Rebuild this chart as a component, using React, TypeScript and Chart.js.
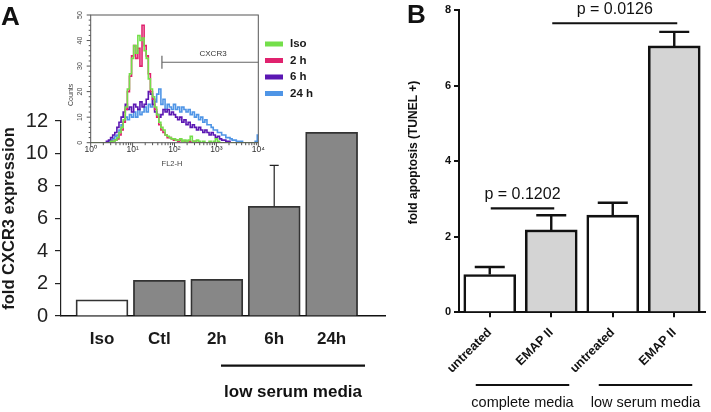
import React, { useEffect, useRef } from "react";
import { Chart, registerables } from "chart.js";

Chart.register(...registerables);

const FONT = "'Liberation Sans', Arial, Helvetica, sans-serif";
Chart.defaults.font.family = FONT;

// ---------- Panel A : bar chart ----------
const groupsA = ["Iso", "Ctl", "2h", "6h", "24h"];
const valuesA = [1.0, 2.2, 2.26, 6.75, 11.3];
const errorsA = [0, 0, 0, 2.52, 0];
const lowSerumA = "low serum media";

// ---------- Panel A inset : flow histogram ----------
const insetSeries = ["Iso", "2 h", "6 h", "24 h"];
const insetColors = ["#74df4a", "#e0226e", "#5b17b3", "#4f95e6"];
const insetXLabels = ["10\u2070", "10\u00b9", "10\u00b2", "10\u00b3", "10\u2074"];
const insetYTicks = [0, 10, 20, 30, 40, 50];
const gateLog = 1.7;
const gateCount = 31.5;

// log10(FL2-H) positions
const histLog = [
  0.0, 0.1, 0.2, 0.25, 0.3, 0.35, 0.4, 0.45, 0.5, 0.55,
  0.6, 0.65, 0.7, 0.75, 0.8, 0.85, 0.9, 0.95, 1.0, 1.05,
  1.1, 1.15, 1.2, 1.25, 1.3, 1.35, 1.4, 1.45, 1.5, 1.55,
  1.6, 1.65, 1.7, 1.75, 1.8, 1.85, 1.9, 1.95, 2.0, 2.05,
  2.1, 2.15, 2.2, 2.25, 2.3, 2.35, 2.4, 2.45, 2.5, 2.55,
  2.6, 2.65, 2.7, 2.75, 2.8, 2.85, 2.9, 2.95, 3.0, 3.05,
  3.1, 3.15, 3.2, 3.25, 3.3, 3.35, 3.4, 3.45, 3.5, 3.55,
  3.6, 3.65, 3.7, 3.75, 3.8, 3.85, 3.9, 3.95, 4.0,
];
const histIso = [
  0, 0, 0, 0, 0, 0, 0, 0, 0.5, 0.5,
  1, 2, 4, 6, 9, 14, 21, 27, 33, 38,
  35, 42, 40, 41, 36, 33, 25, 21, 18, 14,
  11, 8, 6, 5, 3, 2.5, 2, 1.5, 1.5, 1,
  1, 1.5, 0.5, 1, 0.5, 1, 2.5, 0.5, 0.5, 1,
  0.5, 0, 0.5, 0, 0, 0.5, 0, 0.5, 1.5, 0.5,
  0, 0, 0, 0, 0, 0, 0, 0, 0, 0,
  0, 0, 0, 0, 0, 0, 0, 0, 0,
];
const hist2h = [
  0, 0, 0, 0, 0, 0, 0, 0, 0, 0.5,
  1, 1.5, 3, 5, 8, 13, 20, 26, 34, 38,
  33, 37, 30, 46, 38, 34, 27, 20, 17, 13,
  10, 7, 5, 4, 3, 2, 2, 1.5, 1, 1,
  0.5, 1, 0.5, 0.5, 0.5, 0.5, 0, 0.5, 0.5, 0,
  0, 0, 0, 0, 0, 0, 0, 0, 0, 0,
  0, 0, 0, 0, 0, 0, 0, 0, 0, 0,
  0, 0, 0, 0, 0, 0, 0, 0, 0,
];
const hist6h = [
  0, 0, 0, 0, 0, 0, 0.5, 1, 2, 3,
  4, 6, 8, 10, 12, 15, 13, 14, 12, 15,
  14, 13, 16, 14, 15, 17, 20, 19, 15, 12,
  11, 10, 11, 13, 12, 13, 11, 12, 11, 10,
  9, 10, 8, 9, 7, 8, 6, 7, 6, 5,
  6, 5, 4, 5, 4, 3, 4, 3, 2, 2.5,
  1.5, 1, 1, 0.5, 0.5, 0, 0, 0, 0, 0,
  0, 0, 0, 0, 0, 0, 0, 0, 0,
];
const hist24h = [
  0, 0, 0, 0, 0, 0, 0, 0.5, 1, 1.5,
  2.5, 3, 5, 7, 8, 10, 9, 11, 10, 12,
  10, 13, 11, 12, 14, 12, 15, 14, 17, 16,
  19, 21, 15, 17, 13, 15, 14, 13, 15, 13,
  14, 12, 14, 13, 12, 13, 11, 12, 10, 11,
  9, 10, 8, 9, 7, 7, 6, 5, 5, 4,
  4, 3, 3, 2, 2, 1.5, 1, 1, 0.5, 0.5,
  0.5, 0, 0, 0, 0, 0, 0, 0.5, 3,
];
const insetData = [histIso, hist2h, hist6h, hist24h];

// ---------- Panel B : apoptosis ----------
const groupsB = ["untreated", "EMAP II", "untreated", "EMAP II"];
const valuesB = [1.0, 2.18, 2.57, 7.05];
const errorsB = [0.2, 0.39, 0.33, 0.37];
const conditionsB = ["complete media", "low serum media"];
const pLabels = ["p = 0.1202", "p = 0.0126"];
const pPairs = [
  [0, 1],
  [1, 3],
];
const pLevels = [2.75, 7.65];

function makeErrorBars(errors: number[], cap: number, width: number, color: string) {
  return {
    id: "errorBars",
    afterDatasetsDraw(chart: any) {
      const meta = chart.getDatasetMeta(0);
      const ys = chart.scales.y;
      const ctx = chart.ctx;
      const vals = chart.data.datasets[0].data;
      ctx.save();
      ctx.strokeStyle = color;
      ctx.lineWidth = width;
      meta.data.forEach((el: any, i: number) => {
        const e = errors[i];
        if (!e) return;
        const raw = vals[i];
        const v = typeof raw === "number" ? raw : raw.y;
        const y0 = ys.getPixelForValue(v);
        const y1 = ys.getPixelForValue(v + e);
        ctx.beginPath();
        ctx.moveTo(el.x, y0);
        ctx.lineTo(el.x, y1);
        ctx.moveTo(el.x - cap / 2, y1);
        ctx.lineTo(el.x + cap / 2, y1);
        ctx.stroke();
      });
      ctx.restore();
    },
  };
}

const panelADecor = {
  id: "panelADecor",
  afterDraw(chart: any) {
    const { ctx } = chart;
    const x = chart.scales.x;
    ctx.save();
    ctx.fillStyle = "#111";
    ctx.font = `bold 26px ${FONT}`;
    ctx.textAlign = "left";
    ctx.textBaseline = "alphabetic";
    ctx.fillText("A", 1, 25);
    const x0 = x.getPixelForValue(2.073);
    const x1 = x.getPixelForValue(4.582);
    ctx.strokeStyle = "#111";
    ctx.lineWidth = 2.2;
    ctx.beginPath();
    ctx.moveTo(x0, 365.7);
    ctx.lineTo(x1, 365.7);
    ctx.stroke();
    ctx.font = `bold 17px ${FONT}`;
    ctx.textAlign = "center";
    ctx.textBaseline = "middle";
    ctx.fillText(lowSerumA, (x0 + x1) / 2, 392);
    ctx.restore();
  },
};

const insetDecor = {
  id: "insetDecor",
  afterDraw(chart: any) {
    const { ctx, chartArea: a } = chart;
    const x = chart.scales.x;
    const y = chart.scales.y;
    ctx.save();
    ctx.strokeStyle = "#555";
    ctx.lineWidth = 1;
    ctx.strokeRect(a.left, a.top, a.right - a.left, a.bottom - a.top);
    ctx.beginPath();
    for (let d = 0; d < 4; d++) {
      for (let k = 1; k < 10; k++) {
        const px = x.getPixelForValue(d + Math.log10(k));
        const len = k === 1 ? 4 : 2.5;
        ctx.moveTo(px, a.bottom);
        ctx.lineTo(px, a.bottom + len);
      }
    }
    const pEnd = x.getPixelForValue(4);
    ctx.moveTo(pEnd, a.bottom);
    ctx.lineTo(pEnd, a.bottom + 4);
    for (let c = 0; c <= 50; c += 2) {
      const py = y.getPixelForValue(c);
      const len = c % 10 === 0 ? 4 : 2;
      ctx.moveTo(a.left, py);
      ctx.lineTo(a.left - len, py);
    }
    ctx.stroke();

    // y tick labels (rotated)
    ctx.fillStyle = "#444";
    ctx.font = `7px ${FONT}`;
    ctx.textAlign = "center";
    ctx.textBaseline = "middle";
    insetYTicks.forEach((v) => {
      const py = y.getPixelForValue(v);
      ctx.save();
      ctx.translate(a.left - 10.5, py);
      ctx.rotate(-Math.PI / 2);
      ctx.fillText(String(v), 0, 0);
      ctx.restore();
    });
    // axis titles
    ctx.save();
    ctx.translate(a.left - 20, (a.top + a.bottom) / 2 + 16);
    ctx.rotate(-Math.PI / 2);
    ctx.fillText("Counts", 0, 0);
    ctx.restore();
    ctx.font = `7.5px ${FONT}`;
    ctx.fillText("FL2-H", (a.left + a.right) / 2 - 2.5, 164);

    // CXCR3 gate
    const gx = x.getPixelForValue(gateLog);
    const gy = y.getPixelForValue(gateCount);
    ctx.strokeStyle = "#666";
    ctx.lineWidth = 1.2;
    ctx.beginPath();
    ctx.moveTo(gx, gy);
    ctx.lineTo(a.right, gy);
    ctx.moveTo(gx, gy - 6.5);
    ctx.lineTo(gx, gy + 6.5);
    ctx.stroke();
    ctx.fillStyle = "#333";
    ctx.font = `8px ${FONT}`;
    ctx.fillText("CXCR3", x.getPixelForValue(2.92), gy - 8);

    // legend
    ctx.font = `bold 11.5px ${FONT}`;
    ctx.textAlign = "left";
    insetSeries.forEach((label, i) => {
      const ly = 44 + i * 16.5;
      ctx.fillStyle = insetColors[i];
      ctx.fillRect(205, ly - 2.5, 18, 5);
      ctx.fillStyle = "#1a1a1a";
      ctx.fillText(label, 230, ly);
    });
    ctx.restore();
  },
};

const panelBDecor = {
  id: "panelBDecor",
  afterDraw(chart: any) {
    const { ctx } = chart;
    const y = chart.scales.y;
    const meta = chart.getDatasetMeta(0);
    const cx = meta.data.map((e: any) => e.x);
    ctx.save();
    ctx.fillStyle = "#111";
    ctx.strokeStyle = "#111";
    ctx.font = `bold 26px ${FONT}`;
    ctx.textAlign = "left";
    ctx.textBaseline = "alphabetic";
    ctx.fillText("B", 7, 23);

    ctx.save();
    ctx.translate(14, 152.5);
    ctx.rotate(-Math.PI / 2);
    ctx.font = `bold 12px ${FONT}`;
    ctx.textAlign = "center";
    ctx.textBaseline = "middle";
    ctx.fillText("fold apoptosis (TUNEL +)", 0, 0);
    ctx.restore();

    ctx.lineWidth = 2.2;
    ctx.textAlign = "center";
    ctx.textBaseline = "middle";
    ctx.font = `16px ${FONT}`;
    pPairs.forEach(([i, j], k) => {
      const py = y.getPixelForValue(pLevels[k]);
      const x0 = cx[i] + 1;
      const x1 = cx[j] + 3;
      ctx.beginPath();
      ctx.moveTo(x0, py);
      ctx.lineTo(x1, py);
      ctx.stroke();
      ctx.fillText(pLabels[k], (x0 + x1) / 2, py - 14);
    });

    ctx.font = `14.5px ${FONT}`;
    conditionsB.forEach((label, k) => {
      const x0 = cx[2 * k] - 14;
      const x1 = cx[2 * k + 1] + 18;
      const gy = 385;
      ctx.beginPath();
      ctx.moveTo(x0, gy);
      ctx.lineTo(x1, gy);
      ctx.stroke();
      ctx.fillText(label, (x0 + x1) / 2, gy + 18);
    });
    ctx.restore();
  },
};

export default function App() {
  const aRef = useRef<HTMLCanvasElement>(null);
  const insetRef = useRef<HTMLCanvasElement>(null);
  const bRef = useRef<HTMLCanvasElement>(null);

  useEffect(() => {
    const charts: Chart[] = [];

    charts.push(
      new Chart(aRef.current as HTMLCanvasElement, {
        type: "bar",
        data: {
          datasets: [
            {
              data: groupsA.map((_, i) => ({ x: i, y: valuesA[i] })) as any,
              backgroundColor: groupsA.map((_, i) => (i === 0 ? "#ffffff" : "#878787")),
              borderColor: "#333333",
              borderWidth: 1.8,
              barThickness: 52,
            },
          ],
        },
        options: {
          animation: false,
          responsive: false,
          layout: { padding: { top: 121, right: 15, left: 0, bottom: 0 } },
          plugins: { legend: { display: false }, tooltip: { enabled: false } },
          scales: {
            x: {
              type: "linear",
              offset: false,
              min: -0.714,
              max: 4.93,
              afterBuildTicks: (s: any) => {
                s.ticks = groupsA.map((_, i) => ({ value: i }));
              },
              afterFit: (s: any) => {
                s.height = 96;
              },
              ticks: {
                callback: (_v: any, i: number) => groupsA[i],
                font: { size: 17, weight: "bold" },
                color: "#1a1a1a",
                padding: 5,
                maxRotation: 0,
                autoSkip: false,
              },
              grid: { display: false },
              border: { display: true, color: "#111", width: 1.5 },
            },
            y: {
              min: 0,
              max: 12,
              afterFit: (s: any) => {
                s.width = 61;
              },
              ticks: { stepSize: 2, font: { size: 20 }, color: "#222", padding: 7 },
              grid: { display: true, drawOnChartArea: false, tickLength: 6, color: "#222", lineWidth: 1.2 },
              border: { display: true, color: "#222", width: 1.2 },
              title: {
                display: true,
                text: "fold CXCR3 expression",
                font: { size: 16.5, weight: "bold" },
                color: "#1a1a1a",
                padding: 0,
              },
            },
          },
        },
        plugins: [makeErrorBars(errorsA, 9, 1.2, "#222"), panelADecor],
      } as any)
    );

    charts.push(
      new Chart(insetRef.current as HTMLCanvasElement, {
        type: "line",
        data: {
          datasets: insetSeries.map((label, k) => ({
            label,
            data: histLog.map((x, i) => ({ x, y: insetData[k][i] })),
            borderColor: insetColors[k],
            borderWidth: 1.6,
            pointRadius: 0,
            stepped: "middle",
            fill: false,
          })) as any,
        },
        options: {
          animation: false,
          responsive: false,
          layout: { padding: { top: 15, right: 61.7, left: 0, bottom: 0 } },
          plugins: { legend: { display: false }, tooltip: { enabled: false } },
          scales: {
            x: {
              type: "linear",
              min: 0,
              max: 4,
              afterBuildTicks: (s: any) => {
                s.ticks = insetXLabels.map((_, i) => ({ value: i }));
              },
              afterFit: (s: any) => {
                s.height = 32.3;
              },
              ticks: {
                callback: (_v: any, i: number) => insetXLabels[i],
                font: { size: 8.5 },
                color: "#333",
                padding: 2,
                maxRotation: 0,
                autoSkip: false,
              },
              grid: { display: false, drawTicks: false },
              border: { display: false },
            },
            y: {
              min: 0,
              max: 50,
              afterFit: (s: any) => {
                s.width = 30.7;
              },
              ticks: { display: false, stepSize: 10 },
              grid: { display: false, drawTicks: false },
              border: { display: false },
            },
          },
        },
        plugins: [insetDecor],
      } as any)
    );

    charts.push(
      new Chart(bRef.current as HTMLCanvasElement, {
        type: "bar",
        data: {
          labels: groupsB,
          datasets: [
            {
              data: valuesB,
              backgroundColor: ["#ffffff", "#d4d4d4", "#ffffff", "#d4d4d4"],
              borderColor: "#111",
              borderWidth: 2.6,
              barThickness: 52,
            },
          ],
        },
        options: {
          animation: false,
          responsive: false,
          layout: { padding: { top: 10, right: 6, left: 0, bottom: 0 } },
          plugins: { legend: { display: false }, tooltip: { enabled: false } },
          scales: {
            x: {
              afterFit: (s: any) => {
                s.height = 99.7;
              },
              ticks: {
                font: { size: 12.5, weight: "bold" },
                color: "#111",
                minRotation: 45,
                maxRotation: 45,
                padding: 8,
                autoSkip: false,
              },
              grid: { display: true, drawOnChartArea: false, offset: false, tickLength: 5, color: "#111", lineWidth: 2 },
              border: { display: true, color: "#111", width: 2 },
            },
            y: {
              min: 0,
              max: 8,
              afterFit: (s: any) => {
                s.width = 59;
              },
              ticks: { stepSize: 2, font: { size: 11, weight: "bold" }, color: "#111", padding: 3 },
              grid: { display: true, drawOnChartArea: false, tickLength: 5, color: "#111", lineWidth: 2 },
              border: { display: true, color: "#111", width: 2 },
            },
          },
        },
        plugins: [makeErrorBars(errorsB, 30, 2.4, "#111"), panelBDecor],
      } as any)
    );

    return () => charts.forEach((c) => c.destroy());
  }, []);

  return (
    <div
      style={{
        position: "fixed",
        left: 0,
        top: 0,
        width: 711,
        height: 412,
        background: "#ffffff",
        overflow: "hidden",
      }}
    >
      <canvas ref={aRef} width={400} height={412} style={{ position: "absolute", left: 0, top: 0, width: 400, height: 412 }} />
      <canvas ref={insetRef} width={260} height={175} style={{ position: "absolute", left: 60, top: 0, width: 260, height: 175 }} />
      <canvas ref={bRef} width={311} height={412} style={{ position: "absolute", left: 400, top: 0, width: 311, height: 412 }} />
    </div>
  );
}
